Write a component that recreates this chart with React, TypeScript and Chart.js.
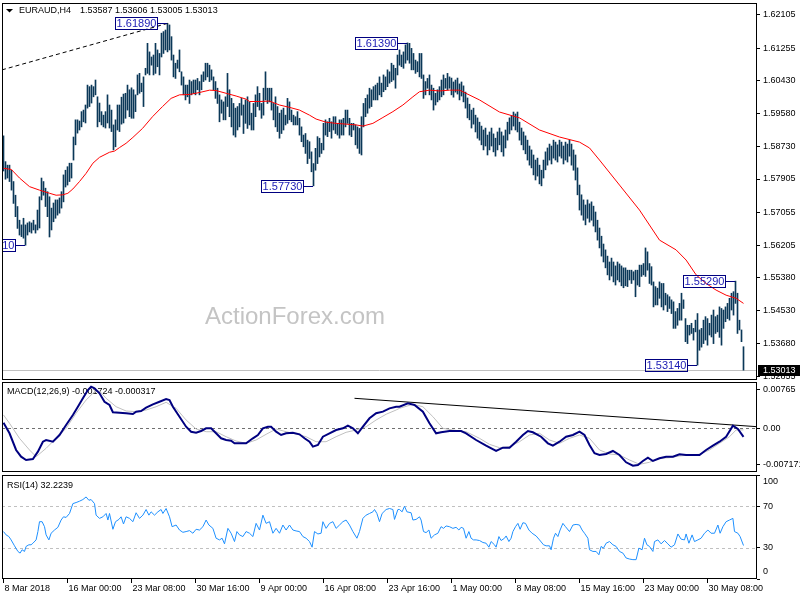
import React, { useEffect, useRef } from 'react';
import { Chart, registerables } from 'chart.js';

Chart.register(...registerables);

const FONT = "'Liberation Sans', Arial, sans-serif";

const symbolName = 'EURAUD,H4';
const symbolQuote = '1.53587 1.53606 1.53005 1.53013';
const macdTitle = 'MACD(12,26,9) -0.001724 -0.000317';
const rsiTitle = 'RSI(14) 32.2239';
const watermark = 'ActionForex.com';

// H4 bars: high / low per bar
const highs = [
  1.5901,1.5835,1.5826,1.5826,1.5813,1.5784,1.5749,1.5720,1.5685,1.5673,
  1.5690,1.5673,1.5678,1.5681,1.5678,1.5685,1.5673,1.5711,1.5745,1.5793,
  1.5784,1.5767,1.5758,1.5745,1.5716,1.5729,1.5737,1.5737,1.5742,1.5758,
  1.5801,1.5813,1.5822,1.5831,1.5831,1.5898,1.5942,1.5942,1.5939,1.5963,
  1.5967,1.5980,1.6031,1.6027,1.6031,1.6027,1.6044,1.6001,1.5985,1.5963,
  1.5954,1.5963,1.6006,1.5980,1.5967,1.5929,1.5942,1.5980,1.5980,1.6000,
  1.6008,1.6010,1.6031,1.6019,1.6024,1.6019,1.6006,1.6057,1.6061,1.6036,
  1.6052,1.6074,1.6138,1.6116,1.6103,1.6108,1.6138,1.6121,1.6112,1.6164,
  1.6168,1.6172,1.6189,1.6185,1.6155,1.6108,1.6087,1.6095,1.6121,1.6065,
  1.6052,1.6031,1.6031,1.6044,1.6040,1.6044,1.6044,1.6048,1.6040,1.6057,
  1.6065,1.6087,1.6087,1.6082,1.6070,1.6052,1.6040,1.6023,1.6006,1.5993,
  1.5988,1.6001,1.6061,1.6019,1.5997,1.5984,1.5972,1.5976,1.5984,1.5997,
  1.5980,1.5993,1.6001,1.5988,1.5959,1.5984,1.6006,1.6027,1.6010,1.5984,
  1.6023,1.6065,1.6023,1.6023,1.6023,1.5984,1.6001,1.5976,1.5959,1.5967,
  1.5972,1.5954,1.5997,1.5988,1.5967,1.5954,1.5950,1.5963,1.5946,1.5924,
  1.5903,1.5907,1.5890,1.5886,1.5860,1.5830,1.5869,1.5899,1.5895,1.5882,
  1.5933,1.5942,1.5937,1.5946,1.5937,1.5950,1.5950,1.5933,1.5942,1.5942,
  1.5946,1.5967,1.5967,1.5946,1.5933,1.5933,1.5929,1.5924,1.5920,1.5950,
  1.5984,1.5997,1.6006,1.6023,1.6019,1.6027,1.6031,1.6036,1.6052,1.6036,
  1.6057,1.6052,1.6070,1.6065,1.6087,1.6082,1.6074,1.6108,1.6121,1.6108,
  1.6116,1.6134,1.6139,1.6138,1.6125,1.6112,1.6095,1.6091,1.6112,1.6112,
  1.6057,1.6040,1.6048,1.6057,1.6031,1.6023,1.6010,1.6019,1.6027,1.6044,
  1.6057,1.6048,1.6061,1.6052,1.6049,1.6039,1.6044,1.6049,1.6034,1.6039,
  1.6029,1.6013,1.5998,1.5982,1.5967,1.5972,1.5954,1.5947,1.5936,1.5926,
  1.5916,1.5921,1.5903,1.5911,1.5921,1.5906,1.5895,1.5911,1.5921,1.5911,
  1.5901,1.5916,1.5936,1.5947,1.5952,1.5962,1.5957,1.5962,1.5936,1.5921,
  1.5911,1.5901,1.5890,1.5875,1.5865,1.5852,1.5839,1.5844,1.5826,1.5813,
  1.5839,1.5860,1.5870,1.5880,1.5875,1.5890,1.5885,1.5878,1.5890,1.5885,
  1.5875,1.5885,1.5880,1.5890,1.5880,1.5865,1.5852,1.5819,1.5775,1.5750,
  1.5737,1.5724,1.5737,1.5727,1.5732,1.5721,1.5706,1.5685,1.5665,1.5644,
  1.5624,1.5609,1.5593,1.5578,1.5588,1.5578,1.5568,1.5578,1.5573,1.5568,
  1.5563,1.5563,1.5557,1.5557,1.5557,1.5553,1.5557,1.5557,1.5570,1.5570,
  1.5574,1.5614,1.5604,1.5574,1.5566,1.5527,1.5515,1.5511,1.5527,1.5523,
  1.5523,1.5498,1.5494,1.5489,1.5481,1.5476,1.5451,1.5459,1.5472,1.5498,
  1.5481,1.5433,1.5416,1.5416,1.5421,1.5408,1.5429,1.5446,1.5404,1.5408,
  1.5429,1.5438,1.5433,1.5421,1.5442,1.5455,1.5438,1.5442,1.5463,1.5459,
  1.5455,1.5463,1.5472,1.5485,1.5498,1.5502,1.5529,1.5498,1.5429,1.5404,
  1.5361,
];
const lows = [
  1.5811,1.5790,1.5793,1.5784,1.5762,1.5728,1.5694,1.5664,1.5647,1.5643,
  1.5639,1.5621,1.5647,1.5655,1.5652,1.5660,1.5652,1.5660,1.5665,1.5737,
  1.5749,1.5720,1.5694,1.5642,1.5660,1.5681,1.5690,1.5698,1.5703,1.5716,
  1.5732,1.5770,1.5775,1.5784,1.5793,1.5839,1.5878,1.5908,1.5916,1.5924,
  1.5937,1.5934,1.5972,1.5976,1.5985,1.6001,1.6006,1.5924,1.5937,1.5929,
  1.5924,1.5921,1.5934,1.5921,1.5912,1.5865,1.5873,1.5916,1.5912,1.5931,
  1.5934,1.5946,1.5967,1.5950,1.5946,1.5946,1.5963,1.6006,1.6010,1.6014,
  1.5976,1.6057,1.6061,1.6057,1.6082,1.6057,1.6061,1.6078,1.6057,1.6103,
  1.6112,1.6121,1.6116,1.6121,1.6095,1.6052,1.6048,1.6074,1.6065,1.6031,
  1.6006,1.5993,1.6001,1.5984,1.6006,1.6010,1.6006,1.6019,1.6006,1.6019,
  1.6040,1.6044,1.6052,1.6040,1.6044,1.6019,1.5997,1.5984,1.5937,1.5959,
  1.5942,1.5942,1.5976,1.5950,1.5924,1.5903,1.5898,1.5916,1.5924,1.5954,
  1.5907,1.5933,1.5920,1.5929,1.5916,1.5916,1.5950,1.5976,1.5967,1.5946,
  1.5954,1.5993,1.5984,1.5988,1.5967,1.5942,1.5924,1.5912,1.5895,1.5907,
  1.5916,1.5929,1.5933,1.5942,1.5937,1.5929,1.5929,1.5929,1.5903,1.5886,
  1.5873,1.5856,1.5830,1.5843,1.5809,1.5773,1.5813,1.5830,1.5847,1.5856,
  1.5865,1.5903,1.5899,1.5912,1.5895,1.5916,1.5907,1.5903,1.5895,1.5903,
  1.5903,1.5924,1.5933,1.5903,1.5899,1.5916,1.5878,1.5869,1.5856,1.5852,
  1.5924,1.5950,1.5959,1.5972,1.5976,1.5993,1.5993,1.5993,1.6006,1.6001,
  1.6014,1.6019,1.6027,1.6036,1.6040,1.6044,1.6023,1.6057,1.6082,1.6078,
  1.6074,1.6087,1.6095,1.6087,1.6070,1.6070,1.6061,1.6065,1.6052,1.6048,
  1.5997,1.6006,1.6023,1.6006,1.5993,1.5967,1.5980,1.5988,1.5993,1.6001,
  1.6006,1.6023,1.6019,1.6023,1.6006,1.6000,1.6013,1.6008,1.5993,1.6003,
  1.5988,1.5972,1.5947,1.5942,1.5921,1.5931,1.5911,1.5895,1.5890,1.5878,
  1.5865,1.5875,1.5852,1.5865,1.5875,1.5860,1.5849,1.5865,1.5878,1.5860,
  1.5849,1.5870,1.5890,1.5906,1.5916,1.5926,1.5916,1.5911,1.5890,1.5878,
  1.5865,1.5855,1.5839,1.5826,1.5819,1.5801,1.5788,1.5798,1.5778,1.5773,
  1.5793,1.5814,1.5826,1.5839,1.5829,1.5844,1.5839,1.5834,1.5849,1.5844,
  1.5829,1.5839,1.5834,1.5849,1.5826,1.5813,1.5788,1.5750,1.5711,1.5698,
  1.5685,1.5673,1.5690,1.5680,1.5685,1.5670,1.5655,1.5634,1.5614,1.5593,
  1.5578,1.5563,1.5545,1.5532,1.5542,1.5527,1.5519,1.5532,1.5527,1.5517,
  1.5512,1.5517,1.5515,1.5532,1.5523,1.5532,1.5489,1.5519,1.5515,1.5541,
  1.5545,1.5541,1.5557,1.5523,1.5519,1.5463,1.5468,1.5468,1.5485,1.5463,
  1.5455,1.5468,1.5451,1.5459,1.5446,1.5408,1.5408,1.5416,1.5429,1.5429,
  1.5459,1.5374,1.5369,1.5391,1.5395,1.5378,1.5399,1.5314,1.5352,1.5360,
  1.5369,1.5378,1.5365,1.5391,1.5386,1.5369,1.5395,1.5399,1.5385,1.5365,
  1.5408,1.5425,1.5433,1.5429,1.5455,1.5442,1.5472,1.5395,1.5404,1.5374,
  1.5301,
];

// moving average (red), sampled along the bars
const maIdx = [0,3.9,8,13,18,23,26.3,29.7,32.2,34.7,38,41.3,44.7,48,53,55.5,58,61.3,64.7,69.5,74.5,79.5,83.8,88,93,98,103,106.3,111.3,116.3,121.3,123,128,133,138,143,148,153,156.3,161.3,166.3,171.3,176.3,179.7,184.7,189.7,194.7,199.7,204.7,208,213,218,223,228,238,248,258,268,278,288,293,298,308,318,328,336.3,341.3,346.3,351.3,356.3,361.3,366.3,370];
const maVal = [1.5818,1.5815,1.5793,1.5771,1.5762,1.5754,1.5749,1.5750,1.5754,1.5765,1.5784,1.5805,1.5831,1.5846,1.5859,1.5862,1.5871,1.5882,1.5897,1.5920,1.5950,1.5976,1.5997,1.6006,1.6007,1.6012,1.6018,1.6017,1.6010,1.6003,1.5995,1.5989,1.5989,1.5990,1.5980,1.5974,1.5967,1.5954,1.5944,1.5936,1.5933,1.5931,1.5929,1.5926,1.5933,1.5948,1.5963,1.5980,1.6001,1.6014,1.6018,1.6016,1.6018,1.6018,1.5993,1.5962,1.5947,1.5916,1.5898,1.5885,1.5870,1.5839,1.5775,1.5711,1.5634,1.5609,1.5583,1.5545,1.5523,1.5506,1.5493,1.5485,1.5472];

// dashed trendline in price panel
const trendIdx = [-0.75, 82];
const trendVal = [1.6070, 1.6189];

// price labels (bar index, price, text)
const annIdx = [11, 82, 155, 202, 347, 366];
const annPrice = [1.5621, 1.6189, 1.5773, 1.6139, 1.5314, 1.5529];
const annText = ['1.56210', '1.61890', '1.57730', '1.61390', '1.53140', '1.55290'];
const currentPrice = 1.53013;

// MACD main + signal
const macdIdx = [0,3,6.3,8.8,11.3,14.7,17.2,19.7,21.3,24.7,28,31.3,34.7,37.2,39.7,42.2,43.8,45.5,48,50.5,53,54.7,58,61.3,64.7,66.3,68.8,71.3,74.7,78,81.3,83,84.7,88,91.3,93.8,96.3,98.8,101.3,103.8,106.3,108.8,111.3,113.8,115.5,118,121.3,124.7,127.2,129.7,132.2,133.8,136.3,138.8,141.3,144.7,148,150.5,153,154.7,157.2,159.7,163,166.3,169.7,172.2,174.7,177.2,179.7,183,186.3,189.7,193,196.3,198,202.2,205.5,209.7,213,216.3,218.8,223,228.8,231.3,236.3,241.3,246.3,249.7,253,256.3,259.7,262.2,264.7,268.8,272.2,274.7,278,281.3,284.7,288,290.5,293,295.5,298,301.3,304.7,308,311.3,314.7,317.2,319.7,322.2,324.7,328,331.3,334.7,338,341.3,344.7,348,351.3,354.7,358,361.3,364.7,367.2,370];
const macdVal = [0.00112,-0.00100,-0.00433,-0.00567,-0.00633,-0.00613,-0.00467,-0.00268,-0.00234,-0.00268,-0.00134,0.00066,0.00266,0.00431,0.00599,0.00765,0.00831,0.00799,0.00699,0.00531,0.00465,0.00320,0.00312,0.00300,0.00286,0.00332,0.00346,0.00411,0.00479,0.00531,0.00585,0.00565,0.00431,0.00232,0.00032,-0.00068,-0.00088,-0.00054,0,0,-0.00100,-0.00200,-0.00234,-0.00248,-0.00300,-0.00300,-0.00300,-0.00200,-0.00134,0,0.00032,0.00032,-0.00068,-0.00134,-0.00100,-0.00088,-0.00120,-0.00200,-0.00268,-0.00367,-0.00333,-0.00168,-0.00100,-0.00034,0,0.00052,0,-0.00100,0.00032,0.00200,0.00300,0.00332,0.00399,0.00431,0.00431,0.00499,0.00465,0.00332,0.00100,-0.00100,-0.00080,-0.00054,-0.00054,-0.00100,-0.00234,-0.00347,-0.00453,-0.00387,-0.00387,-0.00268,-0.00134,-0.00054,-0.00080,-0.00168,-0.00300,-0.00347,-0.00268,-0.00168,-0.00134,-0.00068,-0.00134,-0.00333,-0.00499,-0.00533,-0.00513,-0.00453,-0.00533,-0.00679,-0.00747,-0.00733,-0.00653,-0.00587,-0.00653,-0.00599,-0.00567,-0.00567,-0.00519,-0.00533,-0.00533,-0.00533,-0.00433,-0.00347,-0.00268,-0.00168,0.00052,-0.00014,-0.00172];
const sigIdx = [0,3,8,13,16.3,21.3,26.3,31.3,36.3,41.3,45.5,48,51.3,56.3,61.3,66.3,71.3,76.3,81.3,86.3,91.3,96.3,101.3,106.3,111.3,116.3,121.3,126.3,131.3,136.3,141.3,146.3,151.3,156.3,161.3,166.3,171.3,176.3,181.3,186.3,191.3,196.3,198,204.7,209.7,214.7,219.7,224.7,231.3,238,243,248,253,258,263,268,273,278,283,288,293,298,303,308,313,318,323,328,333,338,343,348,353,358,363,366.3,370];
const sigVal = [0.00266,0.00100,-0.00200,-0.00433,-0.00567,-0.00400,-0.00200,0,0.00300,0.00565,0.00731,0.00745,0.00599,0.00431,0.00346,0.00332,0.00365,0.00431,0.00519,0.00399,0.00166,-0.00014,-0.00068,-0.00068,-0.00168,-0.00254,-0.00300,-0.00234,-0.00120,-0.00014,-0.00068,-0.00114,-0.00168,-0.00268,-0.00268,-0.00168,-0.00080,-0.00034,0.00032,0.00166,0.00280,0.00365,0.00399,0.00479,0.00431,0.00232,0,-0.00034,-0.00068,-0.00200,-0.00320,-0.00387,-0.00367,-0.00268,-0.00134,-0.00100,-0.00234,-0.00300,-0.00200,-0.00134,-0.00200,-0.00433,-0.00513,-0.00533,-0.00633,-0.00719,-0.00679,-0.00599,-0.00587,-0.00553,-0.00533,-0.00519,-0.00433,-0.00300,-0.00168,-0.00034,-0.00032];
const macdTrendIdx = [175.5, 376.75];
const macdTrendVal = [0.00599, 0.00032];

// RSI(14)
const rsiIdx = [0,1.3,2.7,3.8,5.5,7.2,8.3,9.3,10.5,11.3,12.7,13.8,14.7,16.3,17.2,18,19.3,20.5,21.3,22.7,23.8,25.5,27.2,28.8,30,31.3,33,34.7,36.3,38,39.7,41.3,42.7,43.8,45.5,46.3,48,49.7,51.3,52.2,53,54.7,56,57.7,58.8,60,61.3,63,64.7,66.3,68,69.7,71.3,72.7,73.8,75.5,77.2,78.8,79.7,81.3,83,84.3,86.3,88,89.7,91.3,93,94.7,96.3,98,99.7,101.3,102.7,104.7,106.3,108,109.3,110.5,112.2,113.8,115.5,116.7,118,119.7,121.3,123,124.7,126.3,128,129.7,131.3,133,134.7,136.3,138,139.7,141.3,143,144.7,146.3,148,149.7,151.3,153,154.3,155.5,157.2,158.8,159.7,161.3,163,164.7,166.3,168,169.7,171.3,173,174.7,176.7,178,179.7,181.3,183,184.7,185.5,186.7,188,189.3,191.3,193,194.7,195.5,197.2,198,199.3,200.5,201.7,203.8,204.7,206.3,208,208.8,210,211.3,212.7,213.8,215.5,217.2,218.8,220,221.3,223,224.7,226.3,227.7,228.8,230,231.3,232.7,233.8,235,236.3,238,239.7,241.3,242.7,243.8,245.5,246.3,247.7,248.8,250.5,251.3,252.7,253.8,254.7,256,257.2,258.3,259.7,261,262.7,264.3,266.3,268,270,271.3,273,273.8,275,276,277.2,278.3,279.7,281,283,284.7,286.3,288,289.3,290.5,292.2,293,294.7,296.3,297.7,298.8,300,301.3,303,304.7,306.3,308,309.7,311.3,313,314.7,316.3,317.7,319.3,320.5,321.7,323,324.7,325.5,327.2,328.8,330.5,332.2,333.8,335.5,337.2,338.8,340.5,341.3,342.7,344.3,345.5,347.2,348.8,350.5,352.2,353.8,355.5,357.2,358.3,359.7,361.3,363,364.7,365.5,367.2,368.3,370];
const rsiVal = [45.6,42.4,40.8,37.6,31.9,26.5,24.9,28.1,26.5,31.3,32.9,32.9,34.4,37.6,45.6,55.1,55.1,50.3,42.4,37.6,44.0,47.1,49.7,56.7,59.8,59.2,63.0,72.5,73.5,74.8,76.4,78.9,75.7,76.4,72.5,61.4,58.3,59.8,63.0,56.7,63.0,47.8,55.1,57.3,59.8,52.9,59.8,58.3,55.1,63.7,58.3,61.4,66.8,61.4,64.6,61.4,64.6,66.8,63.0,67.8,59.8,50.3,51.9,47.1,44.9,45.6,46.5,44.0,47.8,47.1,50.3,56.7,51.9,48.7,39.2,37.6,39.2,33.8,48.7,44.0,36.0,45.6,42.4,40.8,45.6,44.0,40.8,53.5,47.1,61.4,53.5,55.1,44.0,48.7,44.0,51.9,47.1,51.9,47.1,46.2,45.6,40.8,39.2,36.0,30.6,45.6,43.3,44.0,55.1,48.7,53.5,55.1,48.7,51.9,55.1,56.7,51.9,45.6,39.2,45.6,58.3,61.4,63.0,64.6,66.8,63.0,55.1,63.0,66.8,67.8,66.8,57.3,66.8,66.8,64.6,70.0,64.6,63.7,56.7,57.3,59.8,56.7,45.6,44.6,47.1,39.2,42.4,44.0,50.3,48.7,51.0,50.3,48.7,49.7,47.1,49.7,48.7,39.2,45.6,39.2,37.6,37.6,37.0,35.1,34.4,30.6,36.0,32.9,30.6,40.8,37.0,39.2,41.4,36.0,39.2,45.6,50.3,53.5,47.8,54.1,53.5,47.1,44.0,41.4,37.6,32.9,31.9,31.9,28.1,39.2,44.0,40.8,47.1,53.5,50.3,45.6,51.9,52.5,51.9,47.1,44.0,39.2,28.1,26.5,26.5,23.3,31.3,29.7,34.4,36.0,32.9,31.3,26.5,24.9,20.2,19.2,18.6,18.6,29.7,28.1,39.2,32.9,31.3,26.5,36.0,37.6,33.8,37.0,33.8,30.6,32.9,43.3,38.3,37.6,43.3,34.4,42.4,36.0,37.6,39.2,44.0,47.1,44.0,44.0,51.9,44.0,50.3,55.1,56.7,58.3,45.6,44.0,40.8,32.2];

// axis ticks
const priceTicks = [1.62105,1.61255,1.60430,1.59580,1.58730,1.57905,1.57055,1.56205,1.55380,1.54530,1.53680,1.52855];
const priceTickLabels = ['1.62105','1.61255','1.60430','1.59580','1.58730','1.57905','1.57055','1.56205','1.55380','1.54530','1.53680','1.52855'];
const macdTicks = [0.00765, 0, -0.007171];
const macdTickLabels = ['0.00765', '0.00', '-0.007171'];
const rsiTicks = [100, 70, 30, 0];
const rsiTickLabels = ['100', '70', '30', '0'];
const timeIdx = [0,32,64,96,128,160,192,224,256,288,320,352];
const timeLabels = ['8 Mar 2018','16 Mar 00:00','23 Mar 08:00','30 Mar 16:00','9 Apr 00:00','16 Apr 08:00','23 Apr 16:00','1 May 00:00','8 May 08:00','15 May 16:00','23 May 00:00','30 May 08:00'];

const X_MIN = -0.75;
const X_MAX = 376.75;
const AXIS_W = 43;
const BAR_COLOR = '#0b3858';

const pts = (xs: number[], ys: number[]) => xs.map((x, i) => ({ x, y: ys[i] }));

function drawFrame(chart: any) {
  const { ctx, chartArea: a } = chart;
  ctx.save();
  ctx.strokeStyle = '#000';
  ctx.lineWidth = 1;
  ctx.setLineDash([]);
  ctx.strokeRect(a.left + 0.5, a.top + 0.5, a.right - a.left - 1, a.bottom - a.top - 1);
  ctx.restore();
}

function hLine(chart: any, value: number, color: string, dash: number[]) {
  const { ctx, chartArea: a, scales } = chart;
  const y = Math.round(scales.y.getPixelForValue(value)) + 0.5;
  ctx.save();
  ctx.strokeStyle = color;
  ctx.lineWidth = 1;
  ctx.setLineDash(dash);
  ctx.beginPath();
  ctx.moveTo(a.left, y);
  ctx.lineTo(a.right, y);
  ctx.stroke();
  ctx.restore();
}

function yAxis(ticks: number[], labels: string[], min: number, max: number, showLabels = true) {
  return {
    type: 'linear',
    position: 'right',
    min,
    max,
    bounds: 'data',
    beginAtZero: false,
    border: { display: false },
    grid: { drawOnChartArea: false, drawTicks: true, tickLength: 3, color: '#000', lineWidth: 1 },
    ticks: {
      autoSkip: false,
      padding: 3,
      color: '#000',
      font: { family: FONT, size: 9 },
      callback: (_v: any, i: number) => (showLabels ? labels[i] : ''),
    },
    afterBuildTicks: (s: any) => { s.ticks = ticks.map((v) => ({ value: v })); },
    afterFit: (s: any) => { s.width = AXIS_W; s.paddingTop = 0; s.paddingBottom = 0; },
  };
}

const hiddenX = { type: 'linear', min: X_MIN, max: X_MAX, offset: false, display: false, bounds: 'data', grid: { offset: false } };

const common = {
  responsive: false,
  animation: false,
  devicePixelRatio: 1,
  events: [],
  plugins: { legend: { display: false }, tooltip: { enabled: false } },
};

const mainOverlay = {
  id: 'mainOverlay',
  beforeDatasetsDraw(chart: any) {
    const { ctx } = chart;
    ctx.save();
    ctx.font = `24px ${FONT}`;
    ctx.fillStyle = '#c4c4c4';
    ctx.textBaseline = 'alphabetic';
    ctx.textAlign = 'left';
    ctx.fillText(watermark, 205, 324);
    ctx.restore();
    hLine(chart, currentPrice, '#c0c0c0', []);
  },
  afterDatasetsDraw(chart: any) {
    const { ctx, chartArea: a, scales } = chart;
    ctx.save();
    ctx.beginPath();
    ctx.rect(a.left, a.top, a.right - a.left, a.bottom - a.top);
    ctx.clip();
    annIdx.forEach((k, i) => {
      const col = Math.floor(scales.x.getPixelForValue(k));
      const py = Math.round(scales.y.getPixelForValue(annPrice[i]));
      ctx.strokeStyle = '#000080';
      ctx.lineWidth = 1;
      ctx.beginPath();
      ctx.moveTo(col - 10, py + 0.5);
      ctx.lineTo(col, py + 0.5);
      ctx.stroke();
      const left = col - 52;
      const top = py - 6;
      ctx.strokeRect(left + 0.5, top + 0.5, 42, 12);
      ctx.fillStyle = '#1a1ab4';
      ctx.font = `11px ${FONT}`;
      ctx.textAlign = 'center';
      ctx.textBaseline = 'middle';
      ctx.fillText(annText[i], left + 21.5, top + 7);
    });
    ctx.restore();

    ctx.save();
    ctx.fillStyle = '#000';
    ctx.beginPath();
    ctx.moveTo(6, 9);
    ctx.lineTo(13, 9);
    ctx.lineTo(9.5, 12.5);
    ctx.closePath();
    ctx.fill();
    ctx.font = `9px ${FONT}`;
    ctx.textAlign = 'left';
    ctx.textBaseline = 'alphabetic';
    ctx.fillText(symbolName, 19, 13);
    ctx.fillText(symbolQuote, 80, 13);
    ctx.restore();
  },
  afterDraw(chart: any) {
    drawFrame(chart);
    const { ctx, scales } = chart;
    const py = Math.round(scales.y.getPixelForValue(currentPrice));
    ctx.save();
    ctx.fillStyle = '#000';
    ctx.fillRect(758, py - 5, 42, 11);
    ctx.fillStyle = '#fff';
    ctx.font = `9px ${FONT}`;
    ctx.textAlign = 'left';
    ctx.textBaseline = 'middle';
    ctx.fillText(currentPrice.toFixed(5), 763, py + 0.5);
    ctx.restore();
  },
};

const macdOverlay = {
  id: 'macdOverlay',
  beforeDatasetsDraw(chart: any) {
    hLine(chart, 0, '#707070', [3, 3]);
    const { ctx } = chart;
    ctx.save();
    ctx.fillStyle = '#000';
    ctx.font = `9px ${FONT}`;
    ctx.textAlign = 'left';
    ctx.textBaseline = 'alphabetic';
    ctx.fillText(macdTitle, 7, 12);
    ctx.restore();
  },
  afterDraw(chart: any) { drawFrame(chart); },
};

const rsiOverlay = {
  id: 'rsiOverlay',
  beforeDatasetsDraw(chart: any) {
    hLine(chart, 70, '#c0c0c0', [3, 3]);
    hLine(chart, 30, '#c0c0c0', [3, 3]);
    const { ctx } = chart;
    ctx.save();
    ctx.fillStyle = '#000';
    ctx.font = `9px ${FONT}`;
    ctx.textAlign = 'left';
    ctx.textBaseline = 'alphabetic';
    ctx.fillText(rsiTitle, 7, 13);
    ctx.restore();
  },
  afterDraw(chart: any) {
    drawFrame(chart);
    const { ctx, chartArea: a, scales } = chart;
    ctx.save();
    ctx.fillStyle = '#000';
    ctx.font = `9px ${FONT}`;
    ctx.textAlign = 'left';
    ctx.textBaseline = 'middle';
    rsiTicks.forEach((v, i) => {
      let y = scales.y.getPixelForValue(v);
      if (v === 100) y += 7;
      if (v === 0) y -= 7;
      ctx.fillText(rsiTickLabels[i], a.right + 6, y);
    });
    ctx.restore();
  },
};

export default function App() {
  const mainRef = useRef<HTMLCanvasElement>(null);
  const macdRef = useRef<HTMLCanvasElement>(null);
  const rsiRef = useRef<HTMLCanvasElement>(null);

  useEffect(() => {
    document.body.style.margin = '0';
    const n = Math.min(highs.length, lows.length);
    const bars = [];
    for (let i = 0; i < n; i++) bars.push({ x: i, y: [lows[i], highs[i]] });

    const main = new Chart(mainRef.current as HTMLCanvasElement, {
      type: 'bar',
      data: {
        datasets: [
          { type: 'line', label: 'MA', data: pts(maIdx, maVal), borderColor: '#ff0000', borderWidth: 1, pointRadius: 0, tension: 0, order: 0 },
          { type: 'line', label: 'Trend', data: pts(trendIdx, trendVal), borderColor: '#000000', borderWidth: 1, borderDash: [4, 3], pointRadius: 0, order: 1 },
          { type: 'bar', label: 'EURAUD', data: bars, backgroundColor: BAR_COLOR, barThickness: 1, grouped: false, borderWidth: 0, order: 2 },
        ],
      } as any,
      options: {
        ...common,
        layout: { padding: { left: 2, top: 3, right: 0, bottom: 0 } },
        scales: {
          x: hiddenX,
          y: yAxis(priceTicks, priceTickLabels, 1.52758, 1.62412),
        },
      } as any,
      plugins: [mainOverlay],
    });

    const macd = new Chart(macdRef.current as HTMLCanvasElement, {
      type: 'line',
      data: {
        datasets: [
          { label: 'MACD', data: pts(macdIdx, macdVal), borderColor: '#000080', borderWidth: 2, pointRadius: 0, order: 0 },
          { label: 'Signal', data: pts(sigIdx, sigVal), borderColor: '#c0c0c0', borderWidth: 1, pointRadius: 0, order: 1 },
          { label: 'Trend', data: pts(macdTrendIdx, macdTrendVal), borderColor: '#000000', borderWidth: 1, pointRadius: 0, order: 2 },
        ],
      } as any,
      options: {
        ...common,
        layout: { padding: { left: 2, top: 0, right: 0, bottom: 0 } },
        scales: {
          x: hiddenX,
          y: yAxis(macdTicks, macdTickLabels, -0.008728, 0.009247),
        },
      } as any,
      plugins: [macdOverlay],
    });

    const rsi = new Chart(rsiRef.current as HTMLCanvasElement, {
      type: 'line',
      data: {
        datasets: [
          { label: 'RSI', data: pts(rsiIdx, rsiVal), borderColor: '#1e90ff', borderWidth: 1, pointRadius: 0 },
        ],
      } as any,
      options: {
        ...common,
        layout: { padding: { left: 2, top: 0, right: 0, bottom: 0 } },
        scales: {
          x: {
            type: 'linear',
            min: X_MIN,
            max: X_MAX,
            offset: false,
            bounds: 'data',
            border: { display: false },
            grid: { drawOnChartArea: false, drawTicks: true, tickLength: 4, color: '#000', lineWidth: 1, offset: false },
            ticks: {
              autoSkip: false,
              maxRotation: 0,
              minRotation: 0,
              align: 'start',
              labelOffset: 1,
              padding: 0,
              color: '#000',
              font: { family: FONT, size: 9 },
              callback: (v: any) => {
                const j = timeIdx.indexOf(Number(v));
                return j >= 0 ? timeLabels[j] : '';
              },
            },
            afterBuildTicks: (s: any) => { s.ticks = timeIdx.map((v) => ({ value: v })); },
            afterFit: (s: any) => { s.height = 21; s.paddingLeft = 0; s.paddingRight = 0; },
          },
          y: yAxis(rsiTicks, rsiTickLabels, 0, 100, false),
        },
      } as any,
      plugins: [rsiOverlay],
    });

    return () => { main.destroy(); macd.destroy(); rsi.destroy(); };
  }, []);

  return (
    <div style={{ position: 'fixed', left: 0, top: 0, width: 800, height: 600, background: '#ffffff', overflow: 'hidden' }}>
      <canvas ref={mainRef} width={800} height={380} style={{ position: 'absolute', left: 0, top: 0, width: 800, height: 380 }} />
      <canvas ref={macdRef} width={800} height={90} style={{ position: 'absolute', left: 0, top: 382, width: 800, height: 90 }} />
      <canvas ref={rsiRef} width={800} height={125} style={{ position: 'absolute', left: 0, top: 475, width: 800, height: 125 }} />
    </div>
  );
}
